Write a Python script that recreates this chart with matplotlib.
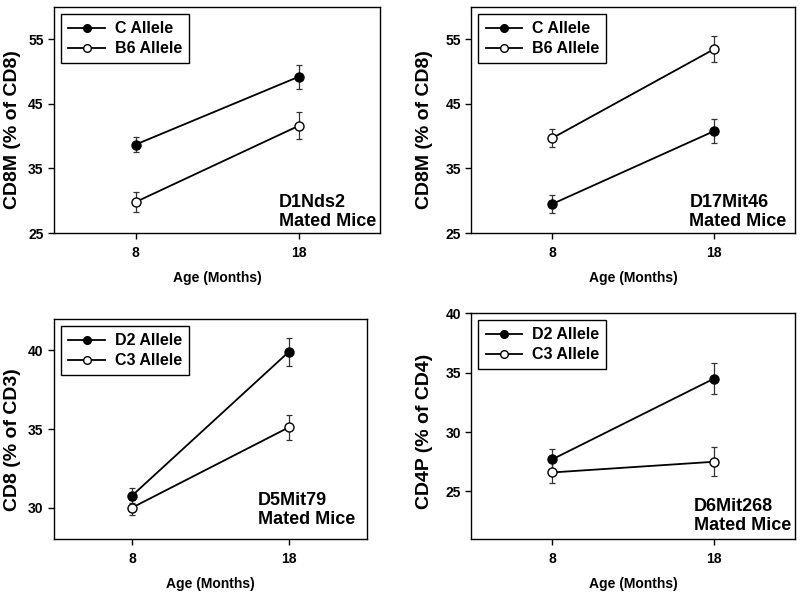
import numpy as np
import matplotlib.pyplot as plt
from matplotlib.lines import Line2D

plt.rcParams['font.family'] = ['Liberation Sans', 'DejaVu Sans']
plt.rcParams['font.weight'] = 'bold'

ages = [8, 18]

# panel 1: D1Nds2
p1_c = [38.7, 49.2]
p1_c_err = [1.2, 1.9]
p1_b6 = [29.8, 41.6]
p1_b6_err = [1.5, 2.1]

# panel 2: D17Mit46
p2_c = [29.5, 40.8]
p2_c_err = [1.4, 1.8]
p2_b6 = [39.7, 53.5]
p2_b6_err = [1.4, 2.0]

# panel 3: D5Mit79
p3_d2 = [30.77, 39.9]
p3_d2_err = [0.5, 0.9]
p3_c3 = [30.0, 35.1]
p3_c3_err = [0.5, 0.8]

# panel 4: D6Mit268
p4_d2 = [27.7, 34.5]
p4_d2_err = [0.9, 1.3]
p4_c3 = [26.6, 27.5]
p4_c3_err = [0.9, 1.2]

panels = [
    dict(pos=[0.0675, 0.607, 0.4075, 0.381], ylabel="CD8M (% of CD8)",
         ylim=(25, 60), yticks=[25, 35, 45, 55], marker="D1Nds2",
         names=("C Allele", "B6 Allele"), lab=(-0.1, 0.46),
         filled=(p1_c, p1_c_err), hollow=(p1_b6, p1_b6_err), tx=0.69, ty=0.015),
    dict(pos=[0.589, 0.607, 0.405, 0.381], ylabel="CD8M (% of CD8)",
         ylim=(25, 60), yticks=[25, 35, 45, 55], marker="D17Mit46",
         names=("C Allele", "B6 Allele"), lab=(-0.117, 0.46),
         filled=(p2_c, p2_c_err), hollow=(p2_b6, p2_b6_err), tx=0.673, ty=0.015),
    dict(pos=[0.0675, 0.091, 0.391, 0.371], ylabel="CD8 (% of CD3)",
         ylim=(28, 42), yticks=[30, 35, 40], marker="D5Mit79",
         names=("D2 Allele", "C3 Allele"), lab=(-0.104, 0.45),
         filled=(p3_d2, p3_d2_err), hollow=(p3_c3, p3_c3_err), tx=0.652, ty=0.05),
    dict(pos=[0.589, 0.091, 0.405, 0.381], ylabel="CD4P (% of CD4)",
         ylim=(21, 40), yticks=[25, 30, 35, 40], marker="D6Mit268",
         names=("D2 Allele", "C3 Allele"), lab=(-0.117, 0.478),
         filled=(p4_d2, p4_d2_err), hollow=(p4_c3, p4_c3_err), tx=0.688, ty=0.022),
]

fig = plt.figure(figsize=(8, 5.93), dpi=100)

for p in panels:
    ax = fig.add_axes(p["pos"])
    for (vals, errs), face in [(p["filled"], "black"), (p["hollow"], "white")]:
        ax.errorbar(ages, vals, yerr=errs, fmt="none", ecolor="#333333",
                    elinewidth=0.9, capsize=2.2, capthick=0.9, zorder=2)
        ax.plot(ages, vals, color="black", lw=1.3, marker="o", markersize=6.5,
                markerfacecolor=face, markeredgecolor="black", mew=1, zorder=3)
    ax.set_xlim(3, 23)
    ax.set_ylim(*p["ylim"])
    ax.set_xticks(ages)
    ax.set_yticks(p["yticks"])
    ax.tick_params(direction="out", length=4.5, width=1, labelsize=10, pad=3)
    ax.tick_params(axis="x", pad=5)
    for s in ax.spines.values():
        s.set_linewidth(1)
    ax.set_xlabel("Age (Months)", fontsize=10, fontweight="bold", labelpad=8)
    ax.set_ylabel(p["ylabel"], fontsize=14, fontweight="bold")
    ax.yaxis.set_label_coords(*p["lab"])
    ax.text(p["tx"], p["ty"], p["marker"] + "\nMated Mice", transform=ax.transAxes,
            ha="left", va="bottom", fontsize=13, fontweight="bold", linespacing=1.15)
    handles = [Line2D([], [], color="black", lw=1.3, marker="o", markersize=5.5,
                      markerfacecolor=face, markeredgecolor="black")
               for face in ("black", "white")]
    leg = ax.legend(handles, p["names"], loc="upper left", fontsize=11.5,
                    frameon=True, fancybox=False, edgecolor="black", framealpha=1,
                    handlelength=2.3, borderaxespad=0.45, borderpad=0.45,
                    handletextpad=0.6, labelspacing=0.3)
    leg.get_frame().set_linewidth(1)

plt.savefig("out.png", dpi=100)
